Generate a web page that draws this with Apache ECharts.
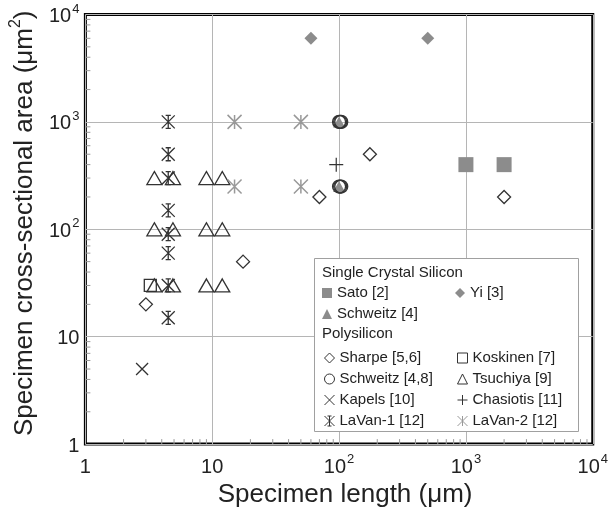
<!DOCTYPE html>
<html>
<head>
<meta charset="utf-8">
<script src="https://cdn.jsdelivr.net/npm/echarts@6/dist/echarts.min.js"></script>
<style>
  html, body { margin: 0; padding: 0; background: #fff; }
  #chart { width: 611px; height: 513px; }
</style>
</head>
<body>
<div id="chart"></div>
<script>
// Single crystal silicon
const satoX = [1000, 2000];
const satoY = [400, 400];
const yiX = [60, 500];
const yiY = [6000, 6000];
const schweitzScX = [100, 100];
const schweitzScY = [1000, 250];

// Polysilicon
const sharpeX = [3, 17.5, 70, 175, 2000];
const sharpeY = [20, 50, 200, 500, 200];
const koskinenX = [3.25];
const koskinenY = [30];
const schweitzPolyX = [100, 102, 104, 100, 102, 104];
const schweitzPolyY = [1000, 1000, 1000, 250, 250, 250];
const tsuchiyaX = [3.5, 4.9, 9, 12, 3.5, 4.9, 9, 12, 3.5, 4.9, 9, 12];
const tsuchiyaY = [300, 300, 300, 300, 100, 100, 100, 100, 30, 30, 30, 30];
const kapelsX = [2.8];
const kapelsY = [5];
const chasiotisX = [95];
const chasiotisY = [400];
const lavan1X = [4.5, 4.5, 4.5, 4.5, 4.5, 4.5, 4.5, 4.5];
const lavan1Y = [1000, 500, 300, 150, 90, 60, 30, 15];
const lavan2X = [15, 15, 50, 50];
const lavan2Y = [1000, 250, 1000, 250];

// Decade ticks and log-spaced minor ticks
const decadeTicks = [1, 10, 100, 1000, 10000];
const minorMultipliers = [2, 3, 4, 5, 6, 7, 8, 9];

const FONT = 'Liberation Sans, Arial, Helvetica, sans-serif';
const INK = '#333';
const GREY = '#8c8c8c';

const pairs = (xs, ys) => xs.map((x, i) => [x, ys[i]]);

const minorTicks = [];
decadeTicks.slice(0, -1).forEach(d => minorMultipliers.forEach(m => minorTicks.push(d * m)));

const SYM_X = 'path://M0,0L10,10M10,0L0,10';
const SYM_PLUS = 'path://M5,0L5,10M0,5L10,5';
const SYM_AST_CAP = 'path://M0,0L10,10M10,0L0,10M5,0L5,10M3,0L7,0M3,10L7,10';
const SYM_AST = 'path://M0,0L10,10M10,0L0,10M5,0L5,10';

function tickLabel(v) {
  const e = Math.round(Math.log10(v));
  if (e === 0) return '{b|1}';
  if (e === 1) return '{b|10}';
  return '{b|10}{s|' + e + '}';
}

const labelRich = {
  b: { fontSize: 20, fontFamily: FONT, color: '#222', lineHeight: 24, verticalAlign: 'bottom' },
  s: { fontSize: 13, fontFamily: FONT, color: '#222', lineHeight: 14, verticalAlign: 'top', padding: [0, 0, 0, 1] }
};

function hollow(name, data, symbol, size, z) {
  return {
    name, type: 'scatter', data, symbol, symbolSize: size, z: z || 3,
    itemStyle: { color: 'none', borderColor: INK, borderWidth: 1.3, opacity: 1 },
    emphasis: { disabled: true }
  };
}

function strokeSym(name, data, symbol, size, color, width) {
  return {
    name, type: 'scatter', data, symbol, symbolSize: size, z: 3,
    itemStyle: { color: 'none', borderColor: color, borderWidth: width, opacity: 1 },
    emphasis: { disabled: true }
  };
}

function filled(name, data, symbol, size) {
  return {
    name, type: 'scatter', data, symbol, symbolSize: size, z: 2,
    itemStyle: { color: GREY, borderWidth: 0, opacity: 1 },
    emphasis: { disabled: true }
  };
}

const legendBase = {
  orient: 'vertical', padding: 0, itemGap: 5, itemWidth: 10, itemHeight: 10,
  selectedMode: false, z: 10,
  itemStyle: { borderWidth: 1 },
  textStyle: { fontSize: 15, fontFamily: FONT, color: '#222', lineHeight: 16 }
};

const chart = echarts.init(document.getElementById('chart'), null, { renderer: 'canvas' });

chart.setOption({
  animation: false,
  backgroundColor: '#fff',
  grid: {
    left: 83.5, right: 14, top: 14.5, bottom: 65.5,
    show: true, borderColor: '#000', borderWidth: 3, backgroundColor: 'transparent'
  },
  xAxis: {
    type: 'log', logBase: 10, min: 1, max: 10000,
    name: 'Specimen length (μm)', nameLocation: 'middle', nameGap: 31,
    nameTextStyle: { fontSize: 26, fontFamily: FONT, color: '#222', padding: [0, 0, 0, 12] },
    axisLine: { show: false },
    axisTick: { show: false },
    axisLabel: { margin: 9, formatter: tickLabel, rich: labelRich, showMinLabel: true, showMaxLabel: true },
    splitLine: { show: true, lineStyle: { color: '#b5b5b5', width: 1 } }
  },
  yAxis: {
    type: 'log', logBase: 10, min: 1, max: 10000,
    name: '{a|Specimen cross-sectional area (μm}{s|2}{a|)}', nameLocation: 'middle', nameGap: 40,
    nameTextStyle: {
      padding: [0, 0, 0, 12],
      rich: {
        a: { fontSize: 26, fontFamily: FONT, color: '#222', lineHeight: 30, verticalAlign: 'bottom' },
        s: { fontSize: 16, fontFamily: FONT, color: '#222', lineHeight: 18, verticalAlign: 'top' }
      }
    },
    axisLine: { show: false },
    axisTick: { show: false },
    axisLabel: { margin: 6, formatter: tickLabel, rich: labelRich, showMinLabel: true, showMaxLabel: true },
    splitLine: { show: true, lineStyle: { color: '#b5b5b5', width: 1 } }
  },
  legend: [
    Object.assign({}, legendBase, { left: 322, top: 285, data: ['Sato [2]', 'Schweitz [4]'] }),
    Object.assign({}, legendBase, { left: 455, top: 285, data: ['Yi [3]'] }),
    Object.assign({}, legendBase, { left: 322, top: 350, data: ['Sharpe [5,6]', 'Schweitz [4,8]', 'Kapels [10]', 'LaVan-1 [12]'] }),
    Object.assign({}, legendBase, { left: 455, top: 350, data: ['Koskinen [7]', 'Tsuchiya [9]', 'Chasiotis [11]', 'LaVan-2 [12]'] })
  ],
  graphic: {
    elements: [
      { type: 'rect', z: 5, shape: { x: 314.5, y: 258.5, width: 264, height: 173 },
        style: { fill: '#fff', stroke: '#a0a0a0', lineWidth: 1 } },
      { type: 'text', z: 6, x: 322, y: 273,
        style: { text: 'Single Crystal Silicon', font: '15px ' + FONT, fill: '#222', verticalAlign: 'middle' } },
      { type: 'text', z: 6, x: 322, y: 334,
        style: { text: 'Polysilicon', font: '15px ' + FONT, fill: '#222', verticalAlign: 'middle' } }
    ]
  },
  series: [
    // minor ticks along the bottom and left edges
    {
      type: 'custom', name: 'minorX', silent: true, clip: false, z: 1,
      data: minorTicks.map(v => [v]),
      renderItem: (params, api) => {
        const p = api.coord([api.value(0), 1]);
        return { type: 'line', shape: { x1: p[0], y1: p[1], x2: p[0], y2: p[1] - 5 },
          style: { stroke: '#999', lineWidth: 1 } };
      }
    },
    {
      type: 'custom', name: 'minorY', silent: true, clip: false, z: 1,
      data: minorTicks.map(v => [v]),
      renderItem: (params, api) => {
        const p = api.coord([1, api.value(0)]);
        return { type: 'line', shape: { x1: p[0], y1: p[1], x2: p[0] + 5, y2: p[1] },
          style: { stroke: '#999', lineWidth: 1 } };
      }
    },
    filled('Sato [2]', pairs(satoX, satoY), 'rect', 15),
    filled('Yi [3]', pairs(yiX, yiY), 'diamond', 13),
    filled('Schweitz [4]', pairs(schweitzScX, schweitzScY), 'triangle', [12, 11]),
    hollow('Sharpe [5,6]', pairs(sharpeX, sharpeY), 'diamond', 13),
    hollow('Koskinen [7]', pairs(koskinenX, koskinenY), 'rect', 12),
    hollow('Schweitz [4,8]', pairs(schweitzPolyX, schweitzPolyY), 'circle', 13),
    hollow('Tsuchiya [9]', pairs(tsuchiyaX, tsuchiyaY), 'triangle', [15, 13]),
    strokeSym('Kapels [10]', pairs(kapelsX, kapelsY), SYM_X, 12, INK, 1.3),
    strokeSym('Chasiotis [11]', pairs(chasiotisX, chasiotisY), SYM_PLUS, 14, INK, 1.2),
    strokeSym('LaVan-1 [12]', pairs(lavan1X, lavan1Y), SYM_AST_CAP, 13, INK, 1.3),
    strokeSym('LaVan-2 [12]', pairs(lavan2X, lavan2Y), SYM_AST, 14, '#999', 1.5)
  ]
});
</script>
</body>
</html>
